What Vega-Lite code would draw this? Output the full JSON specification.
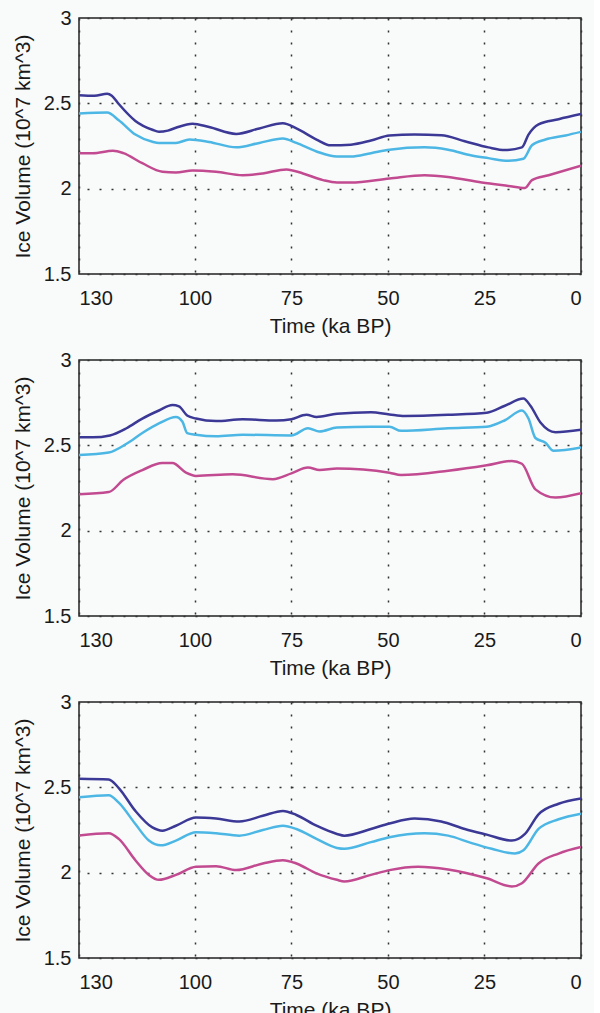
{
  "$schema": "https://vega.github.io/schema/vega-lite/v6.json",
  "background": "#f9fbfa",
  "padding": {"top": 7, "left": 11, "right": 12, "bottom": 0},
  "data": {"values": [
    {"panel":1,"series":"a","time":130,"volume":2.548},{"panel":1,"series":"a","time":126,"volume":2.545},{"panel":1,"series":"a","time":122.7,"volume":2.556},{"panel":1,"series":"a","time":121.5,"volume":2.545},{"panel":1,"series":"a","time":119.7,"volume":2.496},{"panel":1,"series":"a","time":115.4,"volume":2.397},{"panel":1,"series":"a","time":111,"volume":2.345},{"panel":1,"series":"a","time":109.3,"volume":2.333},{"panel":1,"series":"a","time":107,"volume":2.34},{"panel":1,"series":"a","time":104.9,"volume":2.357},{"panel":1,"series":"a","time":100.6,"volume":2.381},{"panel":1,"series":"a","time":96.3,"volume":2.361},{"panel":1,"series":"a","time":89.3,"volume":2.321},{"panel":1,"series":"a","time":83.3,"volume":2.353},{"panel":1,"series":"a","time":77.2,"volume":2.383},{"panel":1,"series":"a","time":73.7,"volume":2.353},{"panel":1,"series":"a","time":68.5,"volume":2.288},{"panel":1,"series":"a","time":64.8,"volume":2.254},{"panel":1,"series":"a","time":59.6,"volume":2.258},{"panel":1,"series":"a","time":54.4,"volume":2.282},{"panel":1,"series":"a","time":49.6,"volume":2.312},{"panel":1,"series":"a","time":43.1,"volume":2.317},{"panel":1,"series":"a","time":36.2,"volume":2.313},{"panel":1,"series":"a","time":30.1,"volume":2.278},{"panel":1,"series":"a","time":24,"volume":2.242},{"panel":1,"series":"a","time":19.7,"volume":2.226},{"panel":1,"series":"a","time":15.3,"volume":2.242},{"panel":1,"series":"a","time":13.6,"volume":2.317},{"panel":1,"series":"a","time":11,"volume":2.377},{"panel":1,"series":"a","time":5.8,"volume":2.407},{"panel":1,"series":"a","time":0,"volume":2.437},
    {"panel":1,"series":"b","time":130,"volume":2.44},{"panel":1,"series":"b","time":122.7,"volume":2.446},{"panel":1,"series":"b","time":119.7,"volume":2.401},{"panel":1,"series":"b","time":115.4,"volume":2.317},{"panel":1,"series":"b","time":111,"volume":2.275},{"panel":1,"series":"b","time":109.3,"volume":2.268},{"panel":1,"series":"b","time":104.9,"volume":2.268},{"panel":1,"series":"b","time":101.4,"volume":2.288},{"panel":1,"series":"b","time":96.3,"volume":2.274},{"panel":1,"series":"b","time":89.3,"volume":2.242},{"panel":1,"series":"b","time":83.3,"volume":2.268},{"panel":1,"series":"b","time":77.2,"volume":2.294},{"panel":1,"series":"b","time":73.7,"volume":2.268},{"panel":1,"series":"b","time":68.5,"volume":2.218},{"panel":1,"series":"b","time":63.2,"volume":2.188},{"panel":1,"series":"b","time":59.6,"volume":2.188},{"panel":1,"series":"b","time":54.4,"volume":2.208},{"panel":1,"series":"b","time":49.6,"volume":2.228},{"panel":1,"series":"b","time":40.5,"volume":2.242},{"panel":1,"series":"b","time":34.4,"volume":2.228},{"panel":1,"series":"b","time":28.3,"volume":2.194},{"panel":1,"series":"b","time":24,"volume":2.179},{"panel":1,"series":"b","time":18.8,"volume":2.163},{"panel":1,"series":"b","time":14.9,"volume":2.175},{"panel":1,"series":"b","time":12.7,"volume":2.254},{"panel":1,"series":"b","time":9.2,"volume":2.288},{"panel":1,"series":"b","time":4,"volume":2.312},{"panel":1,"series":"b","time":0,"volume":2.333},
    {"panel":1,"series":"c","time":130,"volume":2.208},{"panel":1,"series":"c","time":126.4,"volume":2.208},{"panel":1,"series":"c","time":121.2,"volume":2.222},{"panel":1,"series":"c","time":118.5,"volume":2.208},{"panel":1,"series":"c","time":113.6,"volume":2.149},{"panel":1,"series":"c","time":108.4,"volume":2.099},{"panel":1,"series":"c","time":104.9,"volume":2.095},{"panel":1,"series":"c","time":100.6,"volume":2.107},{"panel":1,"series":"c","time":94.5,"volume":2.099},{"panel":1,"series":"c","time":87.6,"volume":2.079},{"panel":1,"series":"c","time":82.4,"volume":2.089},{"panel":1,"series":"c","time":76.3,"volume":2.113},{"panel":1,"series":"c","time":72,"volume":2.089},{"panel":1,"series":"c","time":66.8,"volume":2.05},{"panel":1,"series":"c","time":63.2,"volume":2.036},{"panel":1,"series":"c","time":59.6,"volume":2.036},{"panel":1,"series":"c","time":49.6,"volume":2.06},{"panel":1,"series":"c","time":40.5,"volume":2.079},{"panel":1,"series":"c","time":34.4,"volume":2.069},{"panel":1,"series":"c","time":25.7,"volume":2.036},{"panel":1,"series":"c","time":18.8,"volume":2.016},{"panel":1,"series":"c","time":14.5,"volume":2.004},{"panel":1,"series":"c","time":12.7,"volume":2.05},{"panel":1,"series":"c","time":8.4,"volume":2.079},{"panel":1,"series":"c","time":0,"volume":2.135},
    {"panel":2,"series":"a","time":130,"volume":2.547},{"panel":2,"series":"a","time":126.4,"volume":2.547},{"panel":2,"series":"a","time":122,"volume":2.558},{"panel":2,"series":"a","time":117.7,"volume":2.6},{"panel":2,"series":"a","time":113.6,"volume":2.657},{"panel":2,"series":"a","time":109.3,"volume":2.704},{"panel":2,"series":"a","time":105.8,"volume":2.736},{"panel":2,"series":"a","time":104.1,"volume":2.728},{"panel":2,"series":"a","time":102,"volume":2.675},{"panel":2,"series":"a","time":99.7,"volume":2.657},{"panel":2,"series":"a","time":94.5,"volume":2.642},{"panel":2,"series":"a","time":87.6,"volume":2.653},{"panel":2,"series":"a","time":78.9,"volume":2.645},{"panel":2,"series":"a","time":75,"volume":2.653},{"panel":2,"series":"a","time":71.1,"volume":2.679},{"panel":2,"series":"a","time":68.5,"volume":2.666},{"panel":2,"series":"a","time":63.2,"volume":2.685},{"panel":2,"series":"a","time":54.4,"volume":2.694},{"panel":2,"series":"a","time":49.6,"volume":2.681},{"panel":2,"series":"a","time":45.7,"volume":2.672},{"panel":2,"series":"a","time":34.4,"volume":2.679},{"panel":2,"series":"a","time":24.4,"volume":2.691},{"panel":2,"series":"a","time":19.7,"volume":2.732},{"panel":2,"series":"a","time":14.9,"volume":2.774},{"panel":2,"series":"a","time":13.1,"volume":2.732},{"panel":2,"series":"a","time":10.5,"volume":2.634},{"panel":2,"series":"a","time":6.6,"volume":2.577},{"panel":2,"series":"a","time":0,"volume":2.591},
    {"panel":2,"series":"b","time":130,"volume":2.443},{"panel":2,"series":"b","time":122.3,"volume":2.458},{"panel":2,"series":"b","time":117.7,"volume":2.509},{"panel":2,"series":"b","time":113.6,"volume":2.572},{"panel":2,"series":"b","time":109.3,"volume":2.628},{"panel":2,"series":"b","time":104.9,"volume":2.666},{"panel":2,"series":"b","time":103.2,"volume":2.638},{"panel":2,"series":"b","time":102,"volume":2.572},{"panel":2,"series":"b","time":99.7,"volume":2.562},{"panel":2,"series":"b","time":94.5,"volume":2.553},{"panel":2,"series":"b","time":87.6,"volume":2.562},{"panel":2,"series":"b","time":75,"volume":2.558},{"panel":2,"series":"b","time":70.7,"volume":2.6},{"panel":2,"series":"b","time":67.7,"volume":2.581},{"panel":2,"series":"b","time":63.2,"volume":2.604},{"panel":2,"series":"b","time":54.4,"volume":2.609},{"panel":2,"series":"b","time":49.6,"volume":2.609},{"panel":2,"series":"b","time":46.6,"volume":2.585},{"panel":2,"series":"b","time":34.4,"volume":2.6},{"panel":2,"series":"b","time":24.4,"volume":2.609},{"panel":2,"series":"b","time":19.7,"volume":2.647},{"panel":2,"series":"b","time":15.3,"volume":2.704},{"panel":2,"series":"b","time":13.6,"volume":2.657},{"panel":2,"series":"b","time":11.8,"volume":2.543},{"panel":2,"series":"b","time":9.2,"volume":2.515},{"panel":2,"series":"b","time":7.1,"volume":2.468},{"panel":2,"series":"b","time":0,"volume":2.487},
    {"panel":2,"series":"c","time":130,"volume":2.213},{"panel":2,"series":"c","time":122.3,"volume":2.226},{"panel":2,"series":"c","time":118.5,"volume":2.298},{"panel":2,"series":"c","time":113.6,"volume":2.355},{"panel":2,"series":"c","time":108.4,"volume":2.396},{"panel":2,"series":"c","time":105.8,"volume":2.396},{"panel":2,"series":"c","time":102.3,"volume":2.34},{"panel":2,"series":"c","time":99.7,"volume":2.321},{"panel":2,"series":"c","time":90.2,"volume":2.33},{"panel":2,"series":"c","time":79.8,"volume":2.302},{"panel":2,"series":"c","time":75,"volume":2.336},{"panel":2,"series":"c","time":70.7,"volume":2.37},{"panel":2,"series":"c","time":67.7,"volume":2.355},{"panel":2,"series":"c","time":63.2,"volume":2.364},{"panel":2,"series":"c","time":49.6,"volume":2.34},{"panel":2,"series":"c","time":46.6,"volume":2.326},{"panel":2,"series":"c","time":34.4,"volume":2.351},{"panel":2,"series":"c","time":24.4,"volume":2.383},{"panel":2,"series":"c","time":17.9,"volume":2.408},{"panel":2,"series":"c","time":15.3,"volume":2.392},{"panel":2,"series":"c","time":11.8,"volume":2.242},{"panel":2,"series":"c","time":6.6,"volume":2.194},{"panel":2,"series":"c","time":0,"volume":2.219},
    {"panel":3,"series":"a","time":130,"volume":2.55},{"panel":3,"series":"a","time":122.3,"volume":2.546},{"panel":3,"series":"a","time":119.7,"volume":2.496},{"panel":3,"series":"a","time":115.4,"volume":2.362},{"panel":3,"series":"a","time":111,"volume":2.265},{"panel":3,"series":"a","time":108.4,"volume":2.246},{"panel":3,"series":"a","time":104.9,"volume":2.275},{"panel":3,"series":"a","time":99.7,"volume":2.323},{"panel":3,"series":"a","time":94.5,"volume":2.317},{"panel":3,"series":"a","time":88.5,"volume":2.3},{"panel":3,"series":"a","time":82.4,"volume":2.333},{"panel":3,"series":"a","time":77.2,"volume":2.362},{"panel":3,"series":"a","time":73.7,"volume":2.338},{"panel":3,"series":"a","time":68.5,"volume":2.275},{"panel":3,"series":"a","time":63.2,"volume":2.227},{"panel":3,"series":"a","time":61.3,"volume":2.217},{"panel":3,"series":"a","time":54.4,"volume":2.256},{"panel":3,"series":"a","time":49.6,"volume":2.288},{"panel":3,"series":"a","time":43.1,"volume":2.317},{"panel":3,"series":"a","time":36.2,"volume":2.3},{"panel":3,"series":"a","time":30.1,"volume":2.256},{"panel":3,"series":"a","time":24.4,"volume":2.223},{"panel":3,"series":"a","time":17.9,"volume":2.188},{"panel":3,"series":"a","time":14.5,"volume":2.227},{"panel":3,"series":"a","time":11,"volume":2.342},{"panel":3,"series":"a","time":5.8,"volume":2.404},{"panel":3,"series":"a","time":0,"volume":2.435},
    {"panel":3,"series":"b","time":130,"volume":2.442},{"panel":3,"series":"b","time":122.3,"volume":2.454},{"panel":3,"series":"b","time":119.7,"volume":2.41},{"panel":3,"series":"b","time":115.4,"volume":2.285},{"panel":3,"series":"b","time":111.9,"volume":2.188},{"panel":3,"series":"b","time":108.8,"volume":2.16},{"panel":3,"series":"b","time":104.9,"volume":2.188},{"panel":3,"series":"b","time":99.7,"volume":2.237},{"panel":3,"series":"b","time":94.5,"volume":2.231},{"panel":3,"series":"b","time":88.5,"volume":2.217},{"panel":3,"series":"b","time":82.4,"volume":2.25},{"panel":3,"series":"b","time":77.2,"volume":2.275},{"panel":3,"series":"b","time":73.7,"volume":2.256},{"panel":3,"series":"b","time":68.5,"volume":2.198},{"panel":3,"series":"b","time":63.2,"volume":2.145},{"panel":3,"series":"b","time":61.3,"volume":2.14},{"panel":3,"series":"b","time":54.4,"volume":2.179},{"panel":3,"series":"b","time":49.6,"volume":2.208},{"panel":3,"series":"b","time":40.5,"volume":2.231},{"panel":3,"series":"b","time":34.4,"volume":2.217},{"panel":3,"series":"b","time":28.3,"volume":2.173},{"panel":3,"series":"b","time":23.1,"volume":2.14},{"panel":3,"series":"b","time":17.1,"volume":2.112},{"panel":3,"series":"b","time":14.9,"volume":2.131},{"panel":3,"series":"b","time":11,"volume":2.256},{"panel":3,"series":"b","time":5.8,"volume":2.313},{"panel":3,"series":"b","time":0,"volume":2.346},
    {"panel":3,"series":"c","time":130,"volume":2.217},{"panel":3,"series":"c","time":122.3,"volume":2.231},{"panel":3,"series":"c","time":119.7,"volume":2.198},{"panel":3,"series":"c","time":115.4,"volume":2.073},{"panel":3,"series":"c","time":111.9,"volume":1.987},{"panel":3,"series":"c","time":109.3,"volume":1.958},{"panel":3,"series":"c","time":104.9,"volume":1.987},{"panel":3,"series":"c","time":99.7,"volume":2.035},{"panel":3,"series":"c","time":94.5,"volume":2.038},{"panel":3,"series":"c","time":89.3,"volume":2.015},{"panel":3,"series":"c","time":82.4,"volume":2.054},{"panel":3,"series":"c","time":77.2,"volume":2.073},{"panel":3,"series":"c","time":73.7,"volume":2.054},{"panel":3,"series":"c","time":68.5,"volume":1.996},{"panel":3,"series":"c","time":63.2,"volume":1.958},{"panel":3,"series":"c","time":61.3,"volume":1.948},{"panel":3,"series":"c","time":54.4,"volume":1.987},{"panel":3,"series":"c","time":49.6,"volume":2.015},{"panel":3,"series":"c","time":42.2,"volume":2.035},{"panel":3,"series":"c","time":34.4,"volume":2.019},{"panel":3,"series":"c","time":24.4,"volume":1.967},{"panel":3,"series":"c","time":17.9,"volume":1.919},{"panel":3,"series":"c","time":15.3,"volume":1.938},{"panel":3,"series":"c","time":11,"volume":2.054},{"panel":3,"series":"c","time":5.8,"volume":2.112},{"panel":3,"series":"c","time":0,"volume":2.15}
  ]},
  "facet": {"row": {"field": "panel", "type": "ordinal", "header": {"labels": false, "title": null}}},
  "spacing": {"row": 12},
  "resolve": {"axis": {"x": "independent", "y": "independent"}},
  "spec": {
    "width": 502,
    "height": 256,
    "mark": {"type": "line", "strokeWidth": 2.5, "interpolate": "monotone", "clip": true},
    "encoding": {
      "x": {
        "field": "time", "type": "quantitative",
        "scale": {"domain": [0, 130], "reverse": true, "nice": false, "zero": false},
        "axis": {"title": "Time (ka BP)", "values": [130, 100, 75, 50, 25, 0]}
      },
      "y": {
        "field": "volume", "type": "quantitative",
        "scale": {"domain": [1.5, 3], "nice": false, "zero": false},
        "axis": {"title": "Ice Volume (10^7 km^3)", "values": [1.5, 2, 2.5, 3], "format": "~g"}
      },
      "color": {
        "field": "series", "type": "nominal",
        "scale": {"domain": ["a", "b", "c"], "range": ["#3b3896", "#4cb6e4", "#c24a90"]},
        "legend": null
      }
    }
  },
  "config": {
    "view": {"stroke": "#222222", "strokeWidth": 1.5, "fill": "#f9fbfa"},
    "axis": {
      "domain": false,
      "ticks": false,
      "tickSize": 0,
      "grid": true,
      "gridColor": "#333333",
      "gridWidth": 1.5,
      "gridDash": [2, 10],
      "gridOpacity": 1,
      "labelFont": "Liberation Sans",
      "labelFontSize": 20,
      "labelColor": "#1a1a1a",
      "titleFont": "Liberation Sans",
      "titleFontSize": 21,
      "titleFontWeight": "normal",
      "titleColor": "#1a1a1a"
    },
    "axisX": {"labelPadding": 14, "titlePadding": 7},
    "axisY": {"labelPadding": 8, "titlePadding": 10}
  }
}
